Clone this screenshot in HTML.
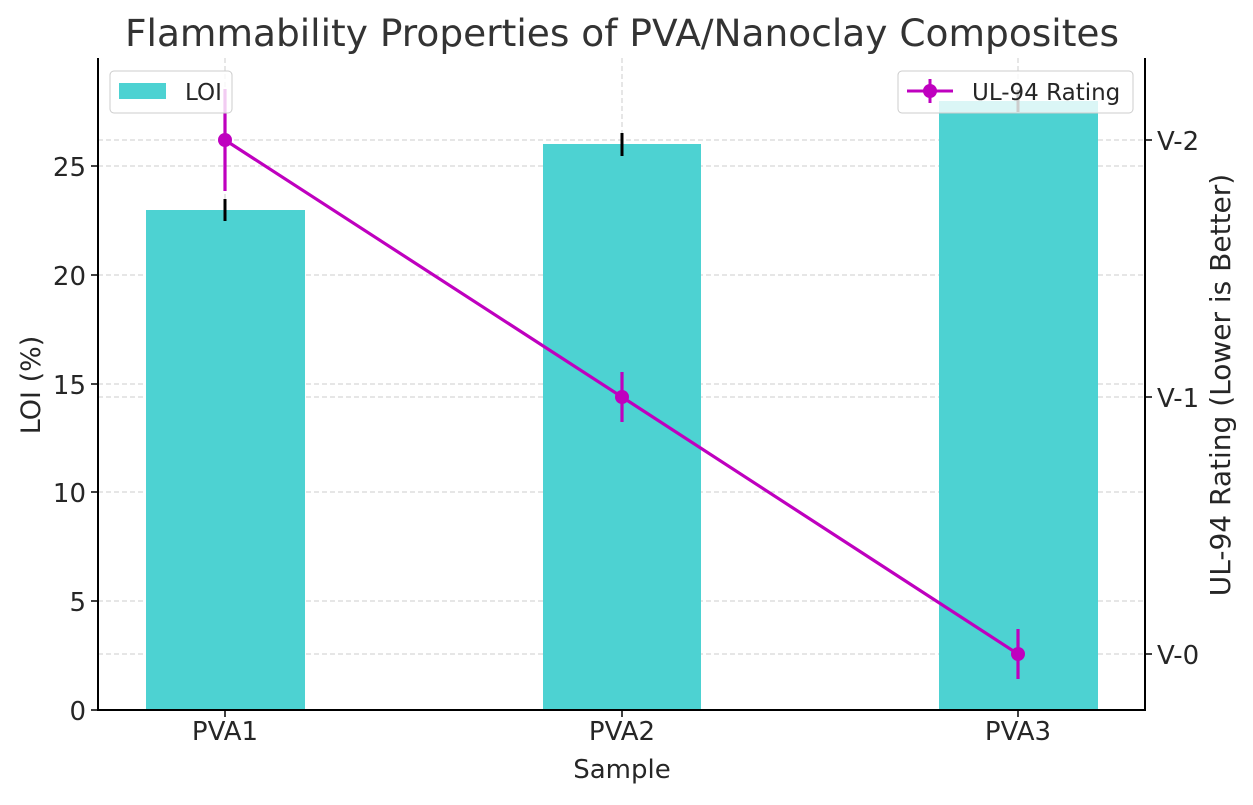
<!DOCTYPE html>
<html><head><meta charset="utf-8"><style>
body{margin:0;background:#fff;}
svg text{font-family:"DejaVu Sans","Liberation Sans",sans-serif;fill:#262626;}
</style></head><body>
<svg width="1253" height="800" viewBox="0 0 1253 800" xmlns="http://www.w3.org/2000/svg">
<rect width="1253" height="800" fill="#fff"/>
<text x="622" y="46" font-size="37.5" text-anchor="middle" style="fill:#333">Flammability Properties of PVA/Nanoclay Composites</text>
<g stroke="#ccc" stroke-width="1" stroke-dasharray="5,3">
<line x1="225" y1="58" x2="225" y2="710"/><line x1="622" y1="58" x2="622" y2="710"/><line x1="1018" y1="58" x2="1018" y2="710"/>
<line x1="98" y1="601" x2="1145" y2="601"/><line x1="98" y1="492" x2="1145" y2="492"/><line x1="98" y1="384" x2="1145" y2="384"/>
<line x1="98" y1="275" x2="1145" y2="275"/><line x1="98" y1="166" x2="1145" y2="166"/>
<line x1="98" y1="140" x2="1145" y2="140"/><line x1="98" y1="397" x2="1145" y2="397"/><line x1="98" y1="654" x2="1145" y2="654"/>
</g>
<g fill="#4dd2d2">
<rect x="146" y="210" width="159" height="500"/><rect x="543" y="144" width="158" height="566"/><rect x="939" y="101" width="159" height="609"/>
</g>
<g stroke="#000" stroke-width="3">
<line x1="225" y1="199" x2="225" y2="221"/><line x1="622" y1="133" x2="622" y2="156"/><line x1="1018" y1="90" x2="1018" y2="112"/>
</g>
<g stroke="#bf00bf" stroke-width="3.2" fill="none">
<polyline points="225,140 622,397 1018,654"/>
<line x1="225" y1="89" x2="225" y2="191"/><line x1="622" y1="372" x2="622" y2="422"/><line x1="1018" y1="629" x2="1018" y2="679"/>
</g>
<g fill="#bf00bf"><circle cx="225" cy="140" r="7"/><circle cx="622" cy="397" r="7"/><circle cx="1018" cy="654" r="7"/></g>
<g stroke="#000" stroke-width="2"><line x1="98" y1="58" x2="98" y2="711"/><line x1="97" y1="710" x2="1146" y2="710"/><line x1="1145" y1="58" x2="1145" y2="711"/></g>
<g stroke="#000" stroke-width="1.5">
<line x1="91" y1="710" x2="98" y2="710"/><line x1="91" y1="601" x2="98" y2="601"/><line x1="91" y1="492" x2="98" y2="492"/><line x1="91" y1="384" x2="98" y2="384"/><line x1="91" y1="275" x2="98" y2="275"/><line x1="91" y1="166" x2="98" y2="166"/>
<line x1="1145" y1="140" x2="1152" y2="140"/><line x1="1145" y1="397" x2="1152" y2="397"/><line x1="1145" y1="654" x2="1152" y2="654"/>
<line x1="225" y1="710" x2="225" y2="717"/><line x1="622" y1="710" x2="622" y2="717"/><line x1="1018" y1="710" x2="1018" y2="717"/>
</g>
<g font-size="26" text-anchor="end">
<text x="86" y="720">0</text><text x="86" y="611">5</text><text x="86" y="502">10</text><text x="86" y="394">15</text><text x="86" y="285">20</text><text x="86" y="176">25</text>
</g>
<g font-size="26">
<text x="1157" y="150">V-2</text><text x="1157" y="407">V-1</text><text x="1157" y="664">V-0</text>
</g>
<g font-size="26" text-anchor="middle">
<text x="225" y="740">PVA1</text><text x="622" y="740">PVA2</text><text x="1018" y="740">PVA3</text>
<text x="622" y="778">Sample</text>
</g>
<text transform="translate(40,385) rotate(-90)" font-size="27" text-anchor="middle">LOI (%)</text>
<text transform="translate(1230,385) rotate(-90)" font-size="28" text-anchor="middle">UL-94 Rating (Lower is Better)</text>
<rect x="110" y="71" width="122" height="42" rx="4" fill="#fff" fill-opacity="0.8" stroke="#ccc"/>
<rect x="119" y="83" width="47" height="16" fill="#4dd2d2"/>
<text x="185" y="100" font-size="23">LOI</text>
<rect x="898" y="71" width="235" height="42" rx="4" fill="#fff" fill-opacity="0.8" stroke="#ccc"/>
<line x1="907" y1="91" x2="953" y2="91" stroke="#bf00bf" stroke-width="3"/>
<line x1="930" y1="79" x2="930" y2="103" stroke="#bf00bf" stroke-width="3"/>
<circle cx="930" cy="91" r="7" fill="#bf00bf"/>
<text x="972" y="100" font-size="23">UL-94 Rating</text>
</svg>
</body></html>
